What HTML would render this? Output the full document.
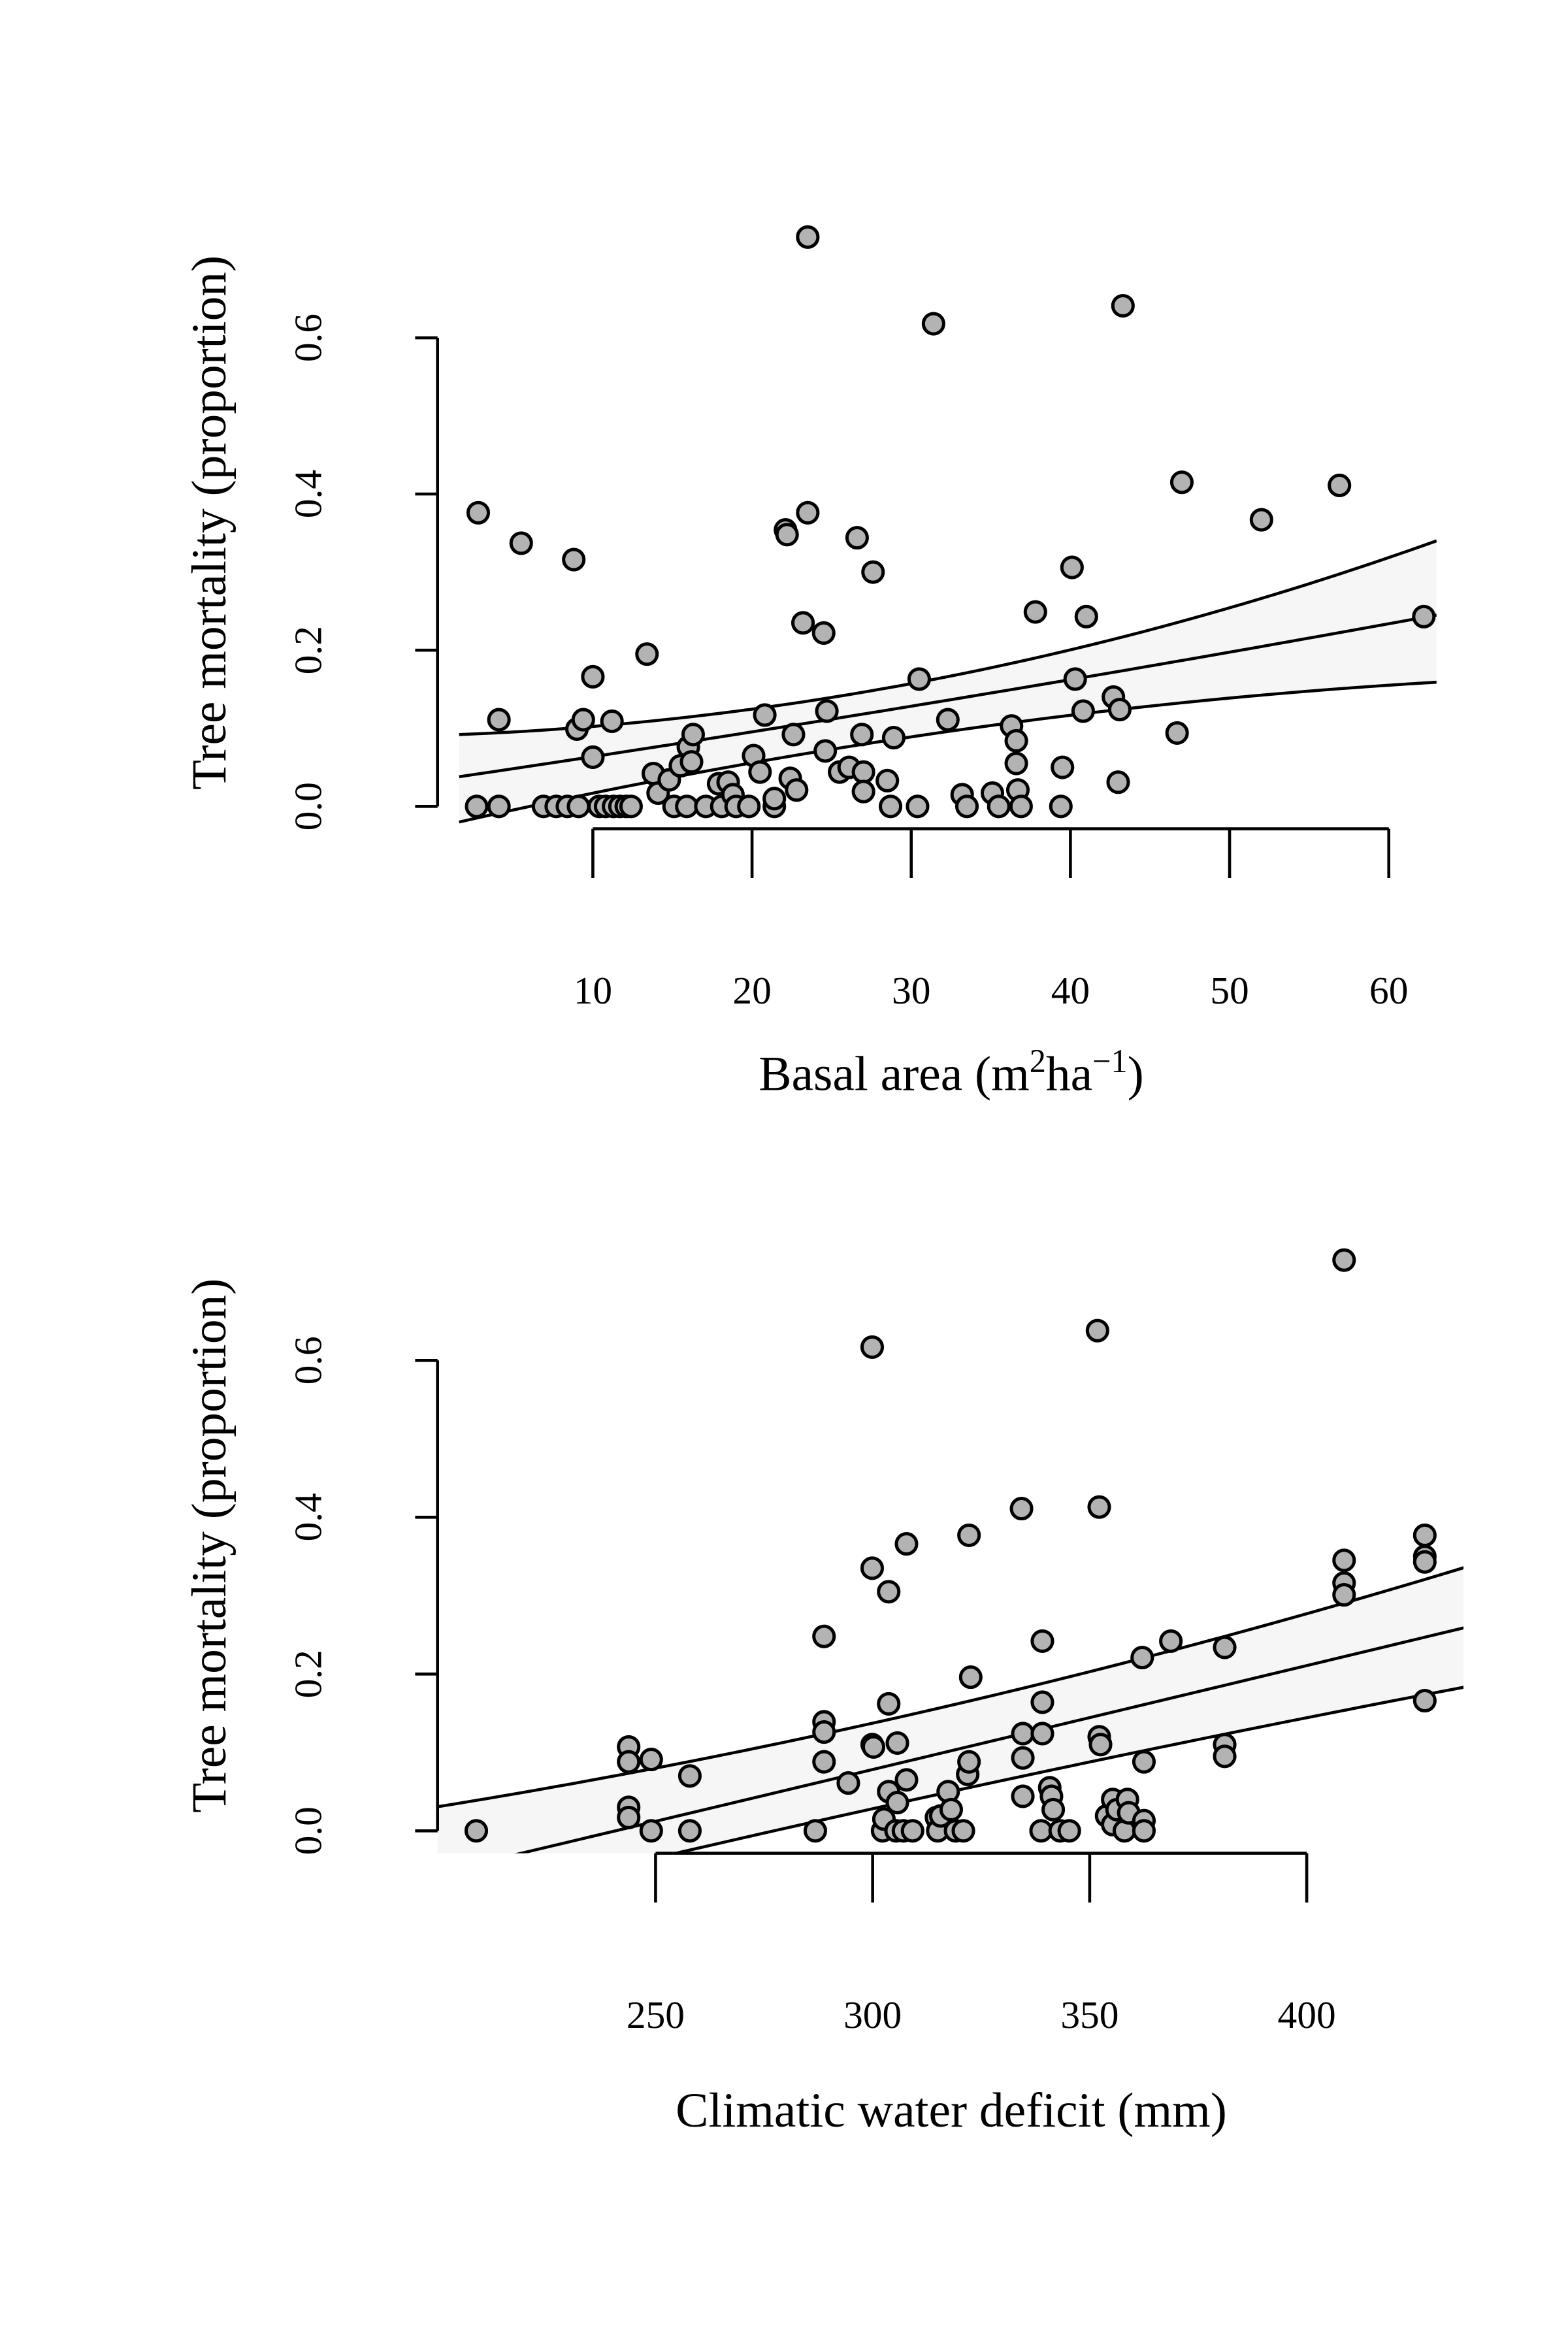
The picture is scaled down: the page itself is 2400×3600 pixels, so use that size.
<!DOCTYPE html>
<html><head><meta charset="utf-8"><style>
html,body{margin:0;padding:0;background:#fff;}
svg{display:block;font-family:"Liberation Serif",serif;}
</style></head>
<body>
<svg id="fig" width="2400" height="3600" viewBox="0 0 1050 1575" xmlns="http://www.w3.org/2000/svg">
<defs>
<clipPath id="clipTop"><rect x="293" y="0" width="669" height="600"/></clipPath>
<clipPath id="clipBot"><rect x="293" y="700" width="687" height="541"/></clipPath>
</defs>
<g id="top"></g>
<g id="bot"></g>
</svg>
<script>
// ---- Top panel data ----
const baX = [2.7,2.8,4.1,4.1,5.5,6.9,7.7,8.4,8.8,9.0,9.1,9.4,10.0,10.0,10.4,10.8,11.2,11.3,11.7,12.1,12.4,13.4,13.8,14.1,14.8,15.1,15.5,15.9,16.0,16.2,16.3,17.1,17.9,18.1,18.5,18.8,19.0,19.8,20.1,20.5,20.8,21.4,21.4,22.1,22.2,22.4,22.6,22.8,23.5,23.2,23.5,24.5,24.6,24.7,25.5,26.1,26.6,26.9,27.0,27.0,27.6,28.5,28.7,28.9,30.4,30.5,31.4,32.3,33.2,33.5,35.1,35.5,36.3,36.6,36.7,36.6,36.9,37.8,39.4,39.5,40.1,40.3,40.8,41.0,42.7,43.1,43.0,43.3,46.7,47.0,52.0,56.9,62.2];
const baY = [0,0.376,0.111,0,0.337,0,0,0,0.316,0.099,0,0.111,0.166,0.063,0,0,0.109,0,0,0,0,0.195,0.042,0.017,0.034,0,0.052,0,0.076,0.057,0.092,0,0.029,0,0.031,0.015,0,0,0.065,0.044,0.117,0,0.01,0.354,0.348,0.036,0.092,0.021,0.376,0.235,0.729,0.222,0.071,0.122,0.044,0.05,0.344,0.092,0.044,0.019,0.300,0.033,0,0.088,0,0.163,0.618,0.111,0.015,0,0.017,0,0.103,0.084,0.021,0.055,0,0.249,0,0.05,0.306,0.163,0.122,0.243,0.140,0.124,0.031,0.641,0.094,0.415,0.367,0.411,0.243];
const baFitX = [1.6, 32, 63];
const baUpper = [0.092, 0.165, 0.34];
const baMean = [0.038, 0.135, 0.245];
const baLower = [-0.02, 0.095, 0.159];
const baTicks = [10,20,30,40,50,60];
const mortTicks = [0.0,0.2,0.4,0.6];
// ---- Bottom panel data ----
const cwdX = [208.7,243.8,243.8,243.8,243.8,249,249,257.9,257.9,286.8,288.8,288.8,288.8,288.8,294.4,299.9,299.9,299.9,300.2,302.3,302.6,303.7,303.7,303.7,305.4,305.7,305.7,307.1,307.8,307.8,309.2,314.7,315.0,315.7,317.4,318.1,319.1,320.9,321.9,322.2,322.6,322.2,334.3,334.6,334.6,334.6,338.8,339.1,339.1,339.1,340.8,341.2,341.6,343.2,345.3,351.8,352.2,352.2,352.5,353.9,355.3,355.3,356.3,358.0,358.7,359.0,362.1,362.5,362.5,362.5,368.7,381.1,381.1,381.1,408.6,408.6,408.6,408.6,427.2,427.2,427.2,427.2];
const cwdY = [0,0.107,0.088,0.030,0.017,0.091,0,0.070,0,0,0.248,0.139,0.126,0.088,0.061,0.617,0.335,0.110,0.107,0,0.015,0.305,0.162,0.05,0,0.112,0.036,0,0.065,0.366,0,0.017,0,0.019,0.05,0.027,0,0,0.072,0.377,0.196,0.088,0.411,0.124,0.093,0.044,0,0.242,0.164,0.124,0.055,0.044,0.027,0,0,0.638,0.413,0.12,0.11,0.019,0.04,0.008,0.027,0,0.04,0.023,0.221,0.088,0.013,0,0.242,0.234,0.11,0.095,0.728,0.345,0.316,0.301,0.377,0.350,0.343,0.166];
const cwdFitX = [199, 318, 437];
const cwdUpper = [0.030, 0.160, 0.337];
const cwdMean = [-0.055, 0.102, 0.260];
const cwdLower = [-0.102, 0.050, 0.184];
const cwdTicks = [250,300,350,400];

const NS = "http://www.w3.org/2000/svg";
function mk(tag, attrs, parent){const e=document.createElementNS(NS,tag);for(const k in attrs)e.setAttribute(k,attrs[k]);parent.appendChild(e);return e;}
function interp(xs, ys, x){let s=0;for(let i=0;i<xs.length;i++){let t=ys[i];for(let j=0;j<xs.length;j++){if(j!==i)t*=(x-xs[j])/(xs[i]-xs[j]);}s+=t;}return s;}

function panel(g, cfg){
  const sx=cfg.sx, sy=cfg.sy;
  const x0=cfg.fitX[0], x1=cfg.fitX[cfg.fitX.length-1];
  const N=60; const up=[],mn=[],lo=[];
  for(let i=0;i<=N;i++){const x=x0+(x1-x0)*i/N;up.push([sx(x),sy(interp(cfg.fitX,cfg.upper,x))]);mn.push([sx(x),sy(interp(cfg.fitX,cfg.mean,x))]);lo.push([sx(x),sy(interp(cfg.fitX,cfg.lower,x))]);}
  const cg=mk('g',{'clip-path':'url(#'+cfg.clip+')'},g);
  const band=mk('path',{d:'M'+up.map(p=>p.join(',')).join('L')+'L'+lo.slice().reverse().map(p=>p.join(',')).join('L')+'Z',fill:'#f6f6f6',stroke:'none'},cg);
  
  
  const names=['upper-ci-line','fit-line','lower-ci-line'];
  [up,mn,lo].forEach((arr,i)=>{const l=mk('path',{d:'M'+arr.map(p=>p.join(',')).join('L'),fill:'none',stroke:'#000','stroke-width':2},cg);
    
    });
  for(let i=0;i<cfg.xs.length;i++){const c=mk('circle',{cx:sx(cfg.xs[i]),cy:sy(cfg.ys[i]),r:6.8,fill:'#b3b3b3',stroke:'#000','stroke-width':2.2},g);
    
    }
  const ya=mk('g',{},g);
  
  
  mk('line',{x1:293,x2:293,y1:sy(0.6),y2:sy(0),stroke:'#000','stroke-width':2},ya);
  mortTicks.forEach(t=>{const y=sy(t);mk('line',{x1:278,x2:293,y1:y,y2:y,stroke:'#000','stroke-width':2},ya);
    const tx=mk('text',{x:0,y:0,transform:'translate(215,'+y+') rotate(-90)','text-anchor':'middle','font-size':26},ya);tx.textContent=t.toFixed(1);
    
    });
  const yt=mk('text',{x:0,y:0,transform:'translate(151,'+cfg.ytc+') rotate(-90)','text-anchor':'middle','font-size':33},g);
  yt.textContent='Tree mortality (proportion)';
  
  
  const xa=mk('g',{},g);
  
  
  const tk=cfg.ticks;
  mk('line',{x1:sx(tk[0]),x2:sx(tk[tk.length-1]),y1:cfg.axY,y2:cfg.axY,stroke:'#000','stroke-width':2},xa);
  tk.forEach(t=>{const x=sx(t);mk('line',{x1:x,x2:x,y1:cfg.axY,y2:cfg.axY+33,stroke:'#000','stroke-width':2},xa);
    const tx=mk('text',{x:x,y:cfg.axY+117,'text-anchor':'middle','font-size':26},xa);tx.textContent=t;
    
    });
  const xt=mk('text',{x:cfg.xtx,y:cfg.xty,'text-anchor':'middle','font-size':33},g);
  xt.innerHTML=cfg.xtitle;
  
  
}
panel(document.getElementById('top'),{
  sx:v=>397+(v-10)*10.66, sy:v=>540-v*523, xs:baX, ys:baY, fitX:baFitX, upper:baUpper, mean:baMean, lower:baLower,
  clip:'clipTop', ticks:baTicks, axY:555, ytc:350, xtx:637, xty:730,
  xtitle:'Basal area (m<tspan dy="-12" font-size="22">2</tspan><tspan dy="12">ha</tspan><tspan dy="-12" font-size="22">−1</tspan><tspan dy="12">)</tspan>'
});
panel(document.getElementById('bot'),{
  sx:v=>439+(v-250)*2.907, sy:v=>1226-v*525, xs:cwdX, ys:cwdY, fitX:cwdFitX, upper:cwdUpper, mean:cwdMean, lower:cwdLower,
  clip:'clipBot', ticks:cwdTicks, axY:1241, ytc:1035, xtx:637, xty:1424,
  xtitle:'Climatic water deficit (mm)'
});
</script>
</body></html>
